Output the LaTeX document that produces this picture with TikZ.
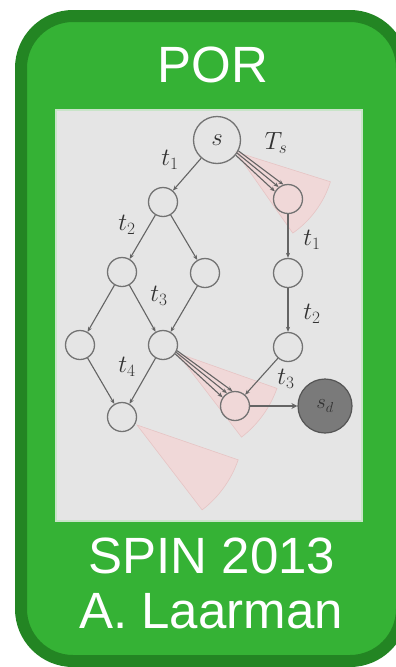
\documentclass[tikz,border=0pt]{standalone}
\usepackage{fontspec}
\setmainfont{Liberation Sans}
\usetikzlibrary{arrows.meta}
\definecolor{cardgreen}{RGB}{53,178,53}
\definecolor{cardedge}{RGB}{35,133,35}
\definecolor{panelgray}{RGB}{229,229,229}
\definecolor{paneledge}{RGB}{200,228,200}
\definecolor{conepink}{RGB}{240,216,216}
\definecolor{coneedge}{RGB}{230,196,196}
\definecolor{nodegray}{RGB}{115,115,115}
\definecolor{edgegray}{RGB}{100,100,100}
\definecolor{labelgray}{RGB}{50,50,50}
\definecolor{sdfill}{RGB}{122,122,122}
\definecolor{sdedge}{RGB}{85,85,85}
\begin{document}
\begin{tikzpicture}[x=1pt,y=-1pt,
  state/.style={circle,draw=nodegray,line width=1.3pt,inner sep=0pt,minimum size=29pt},
  bigstate/.style={state,minimum size=47pt,font=\fontsize{25}{25}\selectfont,text=labelgray},
  deadstate/.style={circle,draw=sdedge,fill=sdfill,line width=1.2pt,inner sep=0pt,minimum size=54pt,
    font=\fontsize{22}{22}\selectfont,text=labelgray},
  trans/.style={draw=edgegray,line width=1.1pt,-{Stealth[length=5pt,width=4pt]}},
  fanarrow/.style={draw=edgegray,line width=1.1pt,-{Stealth[length=5pt,width=4pt]}},
  thickarrow/.style={draw=edgegray,line width=2.4pt,-{Stealth[length=6pt,width=6pt]}},
  cone/.style={fill=conepink,draw=coneedge,line width=0.6pt},
  tlabel/.style={font=\fontsize{24}{24}\selectfont,text=labelgray,inner sep=0pt},
  title/.style={font=\fontsize{51}{55}\selectfont,text=white,anchor=base,inner sep=0pt}]
\useasboundingbox (0,0) rectangle (396,667);
\begin{scope}
\clip (0,0) rectangle (396,667);
% card background with its dark rim
\draw[fill=cardgreen,draw=cardedge,line width=12pt,rounded corners=52pt]
  (21,16) rectangle (402,661);
\end{scope}
% light grey panel holding the state graph
\draw[fill=panelgray,draw=paneledge,line width=1.5pt] (56,110) rectangle (362,521);

% apexes of the reduced-set cones
\coordinate (ca) at (236,152);
\coordinate (cb) at (177,353);
\coordinate (cc) at (137,425);
\filldraw[cone] (ca) -- ++(-17.5:99pt) arc[start angle=-17.5,end angle=-55,radius=99pt] -- cycle;
\filldraw[cone] (cb) -- ++(-19.5:106pt) arc[start angle=-19.5,end angle=-52.5,radius=106pt] -- cycle;
\filldraw[cone] (cc) -- ++(-19:107pt) arc[start angle=-19,end angle=-52.5,radius=107pt] -- cycle;

% states
\node[bigstate] (s) at (217,140) {$s$};
\node[state] (a) at (163,202) {};
\node[state] (b) at (122,272) {};
\node[state] (c) at (205,273) {};
\node[state] (d) at (80,345) {};
\node[state] (e) at (163,345) {};
\node[state] (f) at (122,417) {};
\node[state] (r1) at (288,199) {};
\node[state] (r2) at (288,273) {};
\node[state] (r3) at (288,347) {};
\node[state] (g) at (235,406) {};
\node[deadstate] (sd) at (325,406) {$s_d$};

% transitions of the full graph
\draw[trans] (s) -- (a);
\draw[trans] (a) -- (b);
\draw[trans] (a) -- (c);
\draw[trans] (b) -- (d);
\draw[trans] (b) -- (e);
\draw[trans] (c) -- (e);
\draw[trans] (d) -- (f);
\draw[trans] (e) -- (f);
\draw[trans] (r1) -- (r2);
\draw[trans] (r2) -- (r3);
\draw[trans] (r3) -- (g);
\draw[thickarrow] (g) -- (sd);

% fans of transitions inside the cones
\draw[fanarrow] (s.-27) -- (r1.108);
\draw[fanarrow] (s.-33) -- (r1.128);
\draw[fanarrow] (s.-39) -- (r1.150);
\draw[fanarrow] (e.-22) -- (g.100);
\draw[fanarrow] (e.-29) -- (g.122);
\draw[fanarrow] (e.-36) -- (g.145);

% transition labels
\node[tlabel] (l1) at (170,160) {$t_1$};
\node[tlabel] (lts) at (276,143) {$T_s$};
\node[tlabel] (l2) at (127,225) {$t_2$};
\node[tlabel] (l3) at (159,296) {$t_3$};
\node[tlabel] (l4) at (127,367) {$t_4$};
\node[tlabel] (r1l) at (312,240) {$t_1$};
\node[tlabel] (r2l) at (312,314) {$t_2$};
\node[tlabel] (r3l) at (286,379) {$t_3$};

% card captions
\node[title] (head) at (213,82) {POR};
\node[title] (conf) at (212,573) {SPIN 2013};
\node[title] (auth) at (211,628) {A. Laarman};
\end{tikzpicture}
\end{document}
